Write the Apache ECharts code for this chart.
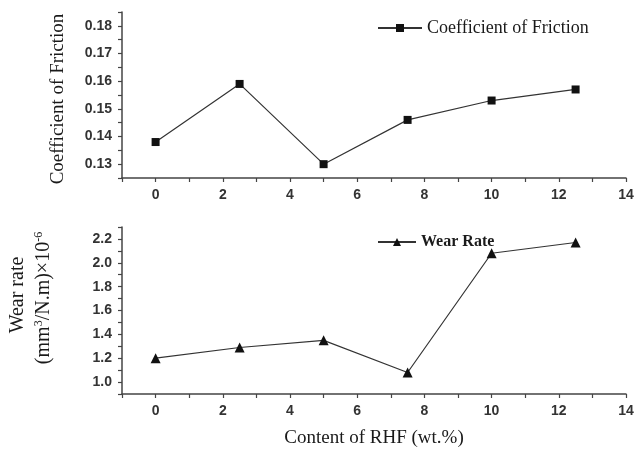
<!DOCTYPE html>
<html><head><meta charset="utf-8">
<script src="https://cdn.jsdelivr.net/npm/echarts@6/dist/echarts.min.js"></script>
<style>html,body{margin:0;padding:0;background:#fff}#c{width:639px;height:450px}</style>
</head><body><div id="c"></div>
<script>
const content = [0, 2.5, 5, 7.5, 10, 12.5];
const friction = [0.138, 0.159, 0.130, 0.146, 0.153, 0.157];
const wearRate = [1.20, 1.29, 1.35, 1.08, 2.08, 2.17];
const xMajor = [0, 2, 4, 6, 8, 10, 12, 14];
const xMinor = [-1, 1, 3, 5, 7, 9, 11, 13];
const fMajor = [0.13, 0.14, 0.15, 0.16, 0.17, 0.18];
const fMinor = [0.125, 0.135, 0.145, 0.155, 0.165, 0.175, 0.185];
const wMajor = [1.0, 1.2, 1.4, 1.6, 1.8, 2.0, 2.2];
const wMinor = [0.9, 1.1, 1.3, 1.5, 1.7, 1.9, 2.1, 2.3];

const axisColor = '#444';
const labelFont = {fontFamily: 'Liberation Sans', fontWeight: 'bold', fontSize: 14, color: '#333'};
const serif = 'Liberation Serif';
const allTicks = (a, b) => a.concat(b).sort((p, q) => p - q);

function mainX(grid, withName) {
  const a = {
    type: 'value', gridIndex: grid, min: -1, max: 14, position: 'bottom',
    axisLine: {show: true, onZero: false, lineStyle: {color: axisColor, width: 1.5}},
    axisTick: {show: true, length: 4, customValues: allTicks(xMajor, xMinor), lineStyle: {color: axisColor, width: 1.2}},
    axisLabel: Object.assign({show: true, customValues: xMajor, margin: 10}, labelFont),
    splitLine: {show: false}
  };
  if (withName) {
    a.name = 'Content of RHF (wt.%)';
    a.nameLocation = 'middle';
    a.nameGap = 35;
    a.nameTextStyle = {fontFamily: serif, fontSize: 19, color: '#1a1a1a'};
  }
  return a;
}
function mainY(grid, min, max, major, minor, dec) {
  return {
    type: 'value', gridIndex: grid, min: min, max: max, position: 'left',
    axisLine: {show: true, onZero: false, lineStyle: {color: axisColor, width: 1.5}},
    axisTick: {show: true, length: 4, customValues: allTicks(major, minor), lineStyle: {color: axisColor, width: 1.2}},
    axisLabel: Object.assign({show: true, customValues: major, margin: 10, formatter: v => v.toFixed(dec)}, labelFont),
    splitLine: {show: false}
  };
}

const chart = echarts.init(document.getElementById('c'), null, {renderer: 'canvas'});
chart.setOption({
  animation: false,
  backgroundColor: '#fff',
  grid: [
    {left: 122, top: 12, width: 504, height: 166},
    {left: 122, top: 227, width: 504, height: 167}
  ],
  xAxis: [mainX(0, false), mainX(1, true)],
  yAxis: [mainY(0, 0.125, 0.185, fMajor, fMinor, 2), mainY(1, 0.9, 2.3, wMajor, wMinor, 1)],
  legend: [
    {data: ['Coefficient of Friction'], left: 372, top: 14, itemWidth: 44, itemHeight: 10, itemGap: 4,
     textStyle: {fontFamily: serif, fontSize: 18, color: '#1a1a1a'}},
    {data: ['Wear Rate'], left: 372, top: 229, itemWidth: 38, itemHeight: 10, itemGap: 5,
     textStyle: {fontFamily: serif, fontSize: 16, fontWeight: 'bold', color: '#1a1a1a'}}
  ],
  graphic: [
    {type: 'text', x: 58, y: 99, rotation: Math.PI / 2,
     style: {text: 'Coefficient of Friction', fontFamily: serif, fontSize: 19, fill: '#1a1a1a', align: 'center', verticalAlign: 'middle'}},
    {type: 'text', x: 18, y: 295, rotation: Math.PI / 2,
     style: {text: 'Wear rate', fontFamily: serif, fontSize: 20, fill: '#1a1a1a', align: 'center', verticalAlign: 'middle'}},
    {type: 'text', x: 44, y: 298, rotation: Math.PI / 2,
     style: {text: '(mm{s|3}/N.m)×10{s|-6}', fontFamily: serif, fontSize: 20, fill: '#1a1a1a', align: 'center', verticalAlign: 'middle',
       rich: {s: {fontFamily: serif, fontSize: 12, fill: '#1a1a1a', verticalAlign: 'top', padding: [0, 0, 10, 0]}}}}
  ],
  series: [
    {name: 'Coefficient of Friction', type: 'line', xAxisIndex: 0, yAxisIndex: 0,
     data: content.map((x, i) => [x, friction[i]]),
     symbol: 'rect', symbolSize: 8, itemStyle: {color: '#111'}, lineStyle: {color: '#333', width: 1.2}},
    {name: 'Wear Rate', type: 'line', xAxisIndex: 1, yAxisIndex: 1,
     data: content.map((x, i) => [x, wearRate[i]]),
     symbol: 'triangle', symbolSize: 10, itemStyle: {color: '#111'}, lineStyle: {color: '#333', width: 1.2}}
  ]
});
</script></body></html>
